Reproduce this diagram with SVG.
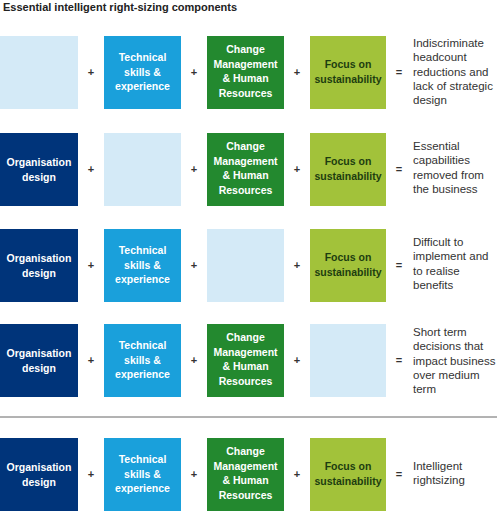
<svg xmlns="http://www.w3.org/2000/svg" width="500" height="517" viewBox="0 0 500 517">
<style>
text{font-family:"Liberation Sans",Arial,sans-serif}
.title{font-size:11px;font-weight:bold;fill:#222}
.bt{font-size:10.5px;font-weight:bold;fill:#fff;text-anchor:middle}
.op{font-size:11px;font-weight:bold;fill:#333;text-anchor:middle}
.rt{font-size:11.5px;fill:#333}
.empty{fill:#d4eaf7}
.org{fill:#00347a}
.tech{fill:#1aa0db}
.chg{fill:#23892f}
.foc{fill:#a2c23a}
.ft{fill:#1d3d10}
</style>
<rect width="500" height="517" fill="#fff"/>
<text class="title" x="3" y="11">Essential intelligent right-sizing components</text>

<!-- Row 1 -->
<g id="r1-org"><rect class="empty" x="0" y="36" width="78" height="73"/></g>
<g id="r1-tech"><rect class="tech" x="104" y="36" width="77" height="73"/><text class="bt" x="142.5" y="61"><tspan x="142.5">Technical</tspan><tspan x="142.5" dy="14.5">skills &amp;</tspan><tspan x="142.5" dy="14.5">experience</tspan></text></g>
<g id="r1-chg"><rect class="chg" x="207" y="36" width="77" height="73"/><text class="bt" x="245.5" y="53"><tspan x="245.5">Change</tspan><tspan x="245.5" dy="14.5">Management</tspan><tspan x="245.5" dy="14.5">&amp; Human</tspan><tspan x="245.5" dy="14.5">Resources</tspan></text></g>
<g id="r1-foc"><rect class="foc" x="310" y="36" width="76" height="73"/><text class="bt ft" x="348" y="68"><tspan x="348">Focus on</tspan><tspan x="348" dy="14.5">sustainability</tspan></text></g>
<g id="r1-res"><text class="rt" x="413" y="47"><tspan x="413">Indiscriminate</tspan><tspan x="413" dy="14.3">headcount</tspan><tspan x="413" dy="14.3">reductions and</tspan><tspan x="413" dy="14.3">lack of strategic</tspan><tspan x="413" dy="14.3">design</tspan></text></g>

<!-- Row 2 -->
<g id="r2-org"><rect class="org" x="0" y="133" width="78" height="73"/><text class="bt" x="39" y="166"><tspan x="39">Organisation</tspan><tspan x="39" dy="14.5">design</tspan></text></g>
<g id="r2-tech"><rect class="empty" x="104" y="133" width="77" height="73"/></g>
<g id="r2-chg"><rect class="chg" x="207" y="133" width="77" height="73"/><text class="bt" x="245.5" y="150"><tspan x="245.5">Change</tspan><tspan x="245.5" dy="14.5">Management</tspan><tspan x="245.5" dy="14.5">&amp; Human</tspan><tspan x="245.5" dy="14.5">Resources</tspan></text></g>
<g id="r2-foc"><rect class="foc" x="310" y="133" width="76" height="73"/><text class="bt ft" x="348" y="165"><tspan x="348">Focus on</tspan><tspan x="348" dy="14.5">sustainability</tspan></text></g>
<g id="r2-res"><text class="rt" x="413" y="150"><tspan x="413">Essential</tspan><tspan x="413" dy="14.3">capabilities</tspan><tspan x="413" dy="14.3">removed from</tspan><tspan x="413" dy="14.3">the business</tspan></text></g>

<!-- Row 3 -->
<g id="r3-org"><rect class="org" x="0" y="229" width="78" height="73"/><text class="bt" x="39" y="262"><tspan x="39">Organisation</tspan><tspan x="39" dy="14.5">design</tspan></text></g>
<g id="r3-tech"><rect class="tech" x="104" y="229" width="77" height="73"/><text class="bt" x="142.5" y="254"><tspan x="142.5">Technical</tspan><tspan x="142.5" dy="14.5">skills &amp;</tspan><tspan x="142.5" dy="14.5">experience</tspan></text></g>
<g id="r3-chg"><rect class="empty" x="207" y="229" width="77" height="73"/></g>
<g id="r3-foc"><rect class="foc" x="310" y="229" width="76" height="73"/><text class="bt ft" x="348" y="261"><tspan x="348">Focus on</tspan><tspan x="348" dy="14.5">sustainability</tspan></text></g>
<g id="r3-res"><text class="rt" x="413" y="246"><tspan x="413">Difficult to</tspan><tspan x="413" dy="14.3">implement and</tspan><tspan x="413" dy="14.3">to realise</tspan><tspan x="413" dy="14.3">benefits</tspan></text></g>

<!-- Row 4 -->
<g id="r4-org"><rect class="org" x="0" y="324" width="78" height="73"/><text class="bt" x="39" y="357"><tspan x="39">Organisation</tspan><tspan x="39" dy="14.5">design</tspan></text></g>
<g id="r4-tech"><rect class="tech" x="104" y="324" width="77" height="73"/><text class="bt" x="142.5" y="349"><tspan x="142.5">Technical</tspan><tspan x="142.5" dy="14.5">skills &amp;</tspan><tspan x="142.5" dy="14.5">experience</tspan></text></g>
<g id="r4-chg"><rect class="chg" x="207" y="324" width="77" height="73"/><text class="bt" x="245.5" y="341"><tspan x="245.5">Change</tspan><tspan x="245.5" dy="14.5">Management</tspan><tspan x="245.5" dy="14.5">&amp; Human</tspan><tspan x="245.5" dy="14.5">Resources</tspan></text></g>
<g id="r4-foc"><rect class="empty" x="310" y="324" width="76" height="73"/></g>
<g id="r4-res"><text class="rt" x="413" y="336"><tspan x="413">Short term</tspan><tspan x="413" dy="14.3">decisions that</tspan><tspan x="413" dy="14.3">impact business</tspan><tspan x="413" dy="14.3">over medium</tspan><tspan x="413" dy="14.3">term</tspan></text></g>

<line x1="0" y1="417" x2="497" y2="417" stroke="#666" stroke-width="1"/>

<!-- Row 5 -->
<g id="r5-org"><rect class="org" x="0" y="438" width="78" height="73"/><text class="bt" x="39" y="471"><tspan x="39">Organisation</tspan><tspan x="39" dy="14.5">design</tspan></text></g>
<g id="r5-tech"><rect class="tech" x="104" y="438" width="77" height="73"/><text class="bt" x="142.5" y="463"><tspan x="142.5">Technical</tspan><tspan x="142.5" dy="14.5">skills &amp;</tspan><tspan x="142.5" dy="14.5">experience</tspan></text></g>
<g id="r5-chg"><rect class="chg" x="207" y="438" width="77" height="73"/><text class="bt" x="245.5" y="455"><tspan x="245.5">Change</tspan><tspan x="245.5" dy="14.5">Management</tspan><tspan x="245.5" dy="14.5">&amp; Human</tspan><tspan x="245.5" dy="14.5">Resources</tspan></text></g>
<g id="r5-foc"><rect class="foc" x="310" y="438" width="76" height="73"/><text class="bt ft" x="348" y="470"><tspan x="348">Focus on</tspan><tspan x="348" dy="14.5">sustainability</tspan></text></g>
<g id="r5-res"><text class="rt" x="413" y="470"><tspan x="413">Intelligent</tspan><tspan x="413" dy="14.3">rightsizing</tspan></text></g>

<!-- Operators -->
<g id="connectors">
<text class="op" x="91" y="76">+</text><text class="op" x="194" y="76">+</text><text class="op" x="297" y="76">+</text><text class="op" x="399" y="76">=</text>
<text class="op" x="91" y="173">+</text><text class="op" x="194" y="173">+</text><text class="op" x="297" y="173">+</text><text class="op" x="399" y="173">=</text>
<text class="op" x="91" y="269">+</text><text class="op" x="194" y="269">+</text><text class="op" x="297" y="269">+</text><text class="op" x="399" y="269">=</text>
<text class="op" x="91" y="364">+</text><text class="op" x="194" y="364">+</text><text class="op" x="297" y="364">+</text><text class="op" x="399" y="364">=</text>
<text class="op" x="91" y="478">+</text><text class="op" x="194" y="478">+</text><text class="op" x="297" y="478">+</text><text class="op" x="399" y="478">=</text>
</g>
</svg>
